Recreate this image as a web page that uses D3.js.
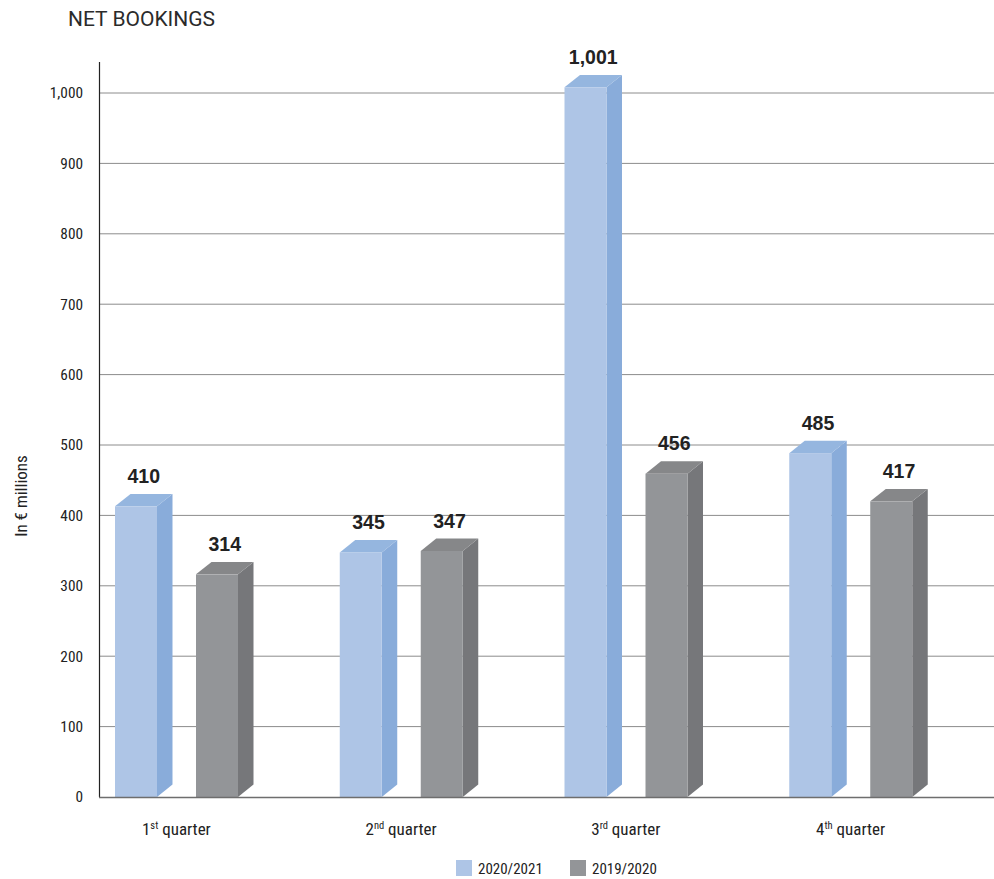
<!DOCTYPE html>
<html><head><meta charset="utf-8">
<script src="https://cdn.jsdelivr.net/npm/d3@7"></script>
<style>
body{margin:0;background:#fff;}
svg{display:block;}
</style></head>
<body>
<script>
const categories = ["1st","2nd","3rd","4th"];
const categoryOrdinal = ["1","2","3","4"];
const categorySuffix = ["st","nd","rd","th"];
const seriesNames = ["2020/2021","2019/2020"];
const values2020_2021 = [410, 345, 1001, 485];
const values2019_2020 = [314, 347, 456, 417];
const yTicks = [0,100,200,300,400,500,600,700,800,900,1000];
const seriesValues = [values2020_2021, values2019_2020];

const W = 994, H = 879;
const narrow = "'Liberation Sans Narrow','Roboto Condensed','DejaVu Sans Condensed',sans-serif";
const svg = d3.select("body").append("svg").attr("width", W).attr("height", H);

// axis/grid scale
const y = d3.scaleLinear().domain([0, 1000]).range([797, 93]);
// bar scale (the 3D bars in the original are drawn slightly taller than the grid)
const yBar = d3.scaleLinear().domain([0, 1000]).range([797, 88]);
const x0 = d3.scaleBand().domain(categories).range([64, 963]);
const x1 = d3.scaleBand().domain(seriesNames).range([51, 174]).paddingInner(0.4815);

const colors = {
  "2020/2021": {front:"#aec5e6", side:"#89acda", top:"#95b6df"},
  "2019/2020": {front:"#939598", side:"#76777a", top:"#868789"}
};
const dx = 15.5, dy = 12.4;

// title
svg.append("text").attr("x", 68).attr("y", 26).text("NET BOOKINGS")
  .attr("font-family","Roboto, sans-serif").attr("font-size", 21).attr("fill","#2b2b2b");

// gridlines
svg.append("g").selectAll("line").data(yTicks.filter(d => d > 0)).join("line")
  .attr("x1", 99).attr("x2", 994).attr("y1", d => y(d)).attr("y2", d => y(d))
  .attr("stroke", "#8c8c8c").attr("stroke-width", 1);

// y axis via d3 axis
const yAxis = d3.axisLeft(y).tickValues(yTicks).tickSize(0).tickPadding(16)
  .tickFormat(d3.format(","));
const gy = svg.append("g").attr("transform", "translate(99,0)").call(yAxis);
gy.select(".domain").remove();
gy.selectAll("text").attr("font-family", narrow).attr("font-size", 15.3).attr("fill", "#222");

svg.append("line").attr("x1", 99.5).attr("x2", 99.5).attr("y1", 62).attr("y2", 797)
  .attr("stroke", "#222").attr("stroke-width", 1.2);

// bars
const groups = svg.append("g").selectAll("g").data(categories).join("g")
  .attr("transform", d => `translate(${x0(d)},0)`);

groups.each(function(cat, ci) {
  const g = d3.select(this);
  seriesNames.forEach((s, si) => {
    const v = seriesValues[si][ci];
    const bx = x1(s), bw = x1.bandwidth();
    const by = yBar(v), b0 = yBar(0);
    const c = colors[s];
    g.append("path").attr("d", `M${bx+bw},${by} L${bx+bw+dx},${by-dy} L${bx+bw+dx},${b0-dy} L${bx+bw},${b0} Z`).attr("fill", c.side);
    g.append("path").attr("d", `M${bx},${by} L${bx+dx},${by-dy} L${bx+bw+dx},${by-dy} L${bx+bw},${by} Z`).attr("fill", c.top);
    g.append("rect").attr("x", bx).attr("y", by).attr("width", bw).attr("height", b0 - by).attr("fill", c.front);
    g.append("text").attr("x", bx + (bw + dx) / 2).attr("y", by - dy - 11)
      .attr("text-anchor", "middle").attr("font-family", "'Liberation Sans', Arial, sans-serif")
      .attr("font-weight", "bold").attr("font-size", 19.5).attr("fill", "#222")
      .text(d3.format(",")(v));
  });
});

// x axis baseline
svg.append("line").attr("x1", 99).attr("x2", 994).attr("y1", 797.5).attr("y2", 797.5)
  .attr("stroke", "#6e6e6e").attr("stroke-width", 1.5);

// category labels
const cl = svg.append("g").selectAll("text").data(categories).join("text")
  .attr("x", d => x0(d) + x0.bandwidth() / 2).attr("y", 835)
  .attr("text-anchor", "middle").attr("font-family", narrow).attr("font-size", 17).attr("fill", "#222");
cl.append("tspan").text((d, i) => categoryOrdinal[i]);
cl.append("tspan").attr("font-size", 10.5).attr("dy", -6).text((d, i) => categorySuffix[i]);
cl.append("tspan").attr("dy", 6).text(" quarter");

// y label
svg.append("text").attr("transform", "translate(27,496) rotate(-90)")
  .attr("text-anchor", "middle").attr("font-family", narrow).attr("font-size", 17).attr("fill", "#222")
  .text("In € millions");

// legend
const legX = [456, 570];
const leg = svg.append("g").selectAll("g").data(seriesNames).join("g")
  .attr("transform", (d, i) => `translate(${legX[i]},860)`);
leg.append("rect").attr("width", 16).attr("height", 16).attr("fill", d => colors[d].front);
leg.append("text").attr("x", 22).attr("y", 14).attr("font-family", narrow).attr("font-size", 15)
  .attr("fill", "#222").text(d => d);
</script>
</body></html>
